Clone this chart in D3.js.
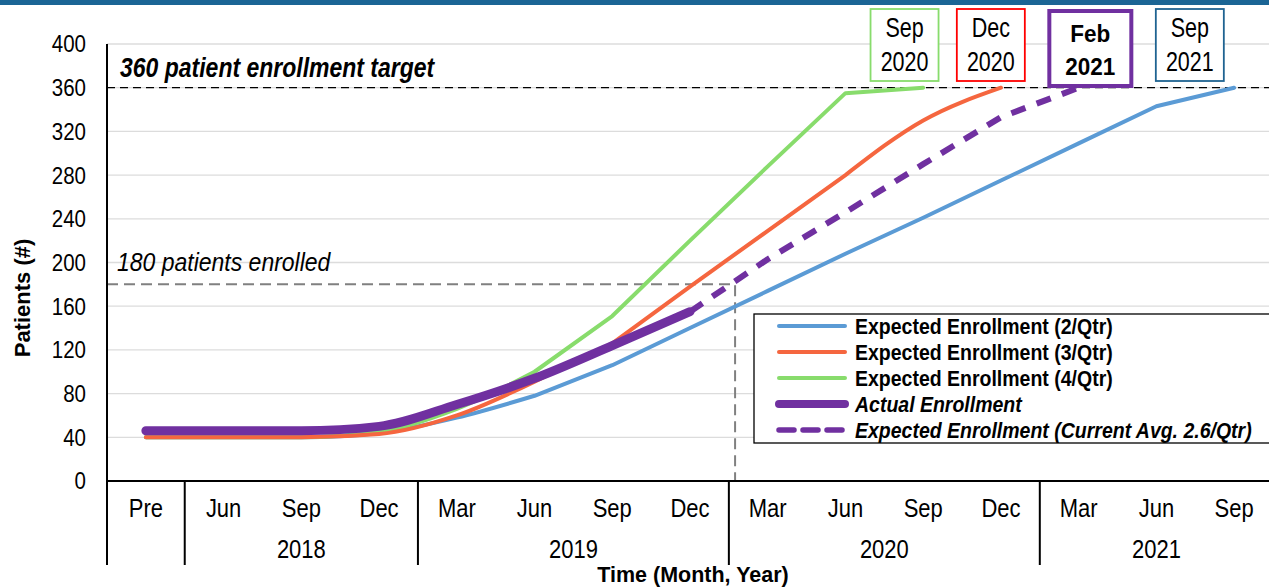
<!DOCTYPE html>
<html lang="en">
<head>
    <meta charset="UTF-8">
    <title>Enrollment</title>
    <script src="https://cdn.jsdelivr.net/npm/d3@7"></script>
    <style>
        body { margin: 0; background: #fff; }
        text { font-family: "Liberation Sans", Arial, sans-serif; fill: #000; }
    </style>
</head>
<body>
<svg width="1269" height="588"></svg>
<script>
    // categories along the x axis (quarters)
    const months = ["Pre", "Jun", "Sep", "Dec", "Mar", "Jun", "Sep", "Dec", "Mar", "Jun", "Sep", "Dec", "Mar", "Jun", "Sep"];
    const years = [
        {label: "", from: 0, to: 0},
        {label: "2018", from: 1, to: 3},
        {label: "2019", from: 4, to: 7},
        {label: "2020", from: 8, to: 11},
        {label: "2021", from: 12, to: 14}
    ];
    const yTicks = [0, 40, 80, 120, 160, 200, 240, 280, 320, 360, 400];

    // series values (patients), one per quarter
    const exp2 = [40, 40, 40, 44, 58, 78, 106, 140, 174, 208, 241, 275, 309, 343, 360];
    const exp3 = [40, 40, 40, 43, 60, 91, 126, 178, 229, 280, 330, 360];
    const exp4 = [40, 40, 40, 45, 66, 100, 151, 220, 288, 355, 360];
    const actual = [46, 46, 46, 50, 70, 94, 124, 155];
    // projected at current avg, starts at last actual quarter (index 7)
    const projected = [155, 203, 246, 290, 333, 360];
    const projStart = 7;

    const target = 360;
    const halfway = 180;
    const halfwayAt = 7.58; // quarter index where projection crosses 180

    const milestones = [
        {l1: "Sep", l2: "2020", at: 9.76, color: "#88dc6c", bold: false},
        {l1: "Dec", l2: "2020", at: 10.87, color: "#ff0000", bold: false},
        {l1: "Feb", l2: "2021", at: 12.15, color: "#7030a0", bold: true},
        {l1: "Sep", l2: "2021", at: 13.43, color: "#1f6391", bold: false}
    ];

    const legendItems = [
        {name: "Expected Enrollment (2/Qtr)", color: "#5b9bd5", w: 4, dash: null, italic: false},
        {name: "Expected Enrollment (3/Qtr)", color: "#f5663f", w: 4, dash: null, italic: false},
        {name: "Expected Enrollment (4/Qtr)", color: "#88dc6c", w: 4, dash: null, italic: false},
        {name: "Actual Enrollment", color: "#7030a0", w: 8, dash: null, italic: true},
        {name: "Expected Enrollment (Current Avg. 2.6/Qtr)", color: "#7030a0", w: 5.5, dash: "15,9", italic: true}
    ];

    var svg = d3.select("svg");

    var x = d3.scaleLinear().domain([-0.5, 14.5]).range([107, 1273]);
    var y = d3.scaleLinear().domain([0, 400]).range([481, 44]);

    // text in the picture is a bit taller than plain Arial
    function at(px, py, sy) {
        return "translate(" + px + "," + py + ") scale(1," + (sy || 1.15) + ")";
    }

    // top banner
    svg.append("rect").attr("x", 0).attr("y", 0).attr("width", 1269).attr("height", 5).attr("fill", "#1b6595");

    // gridlines
    svg.append("g").selectAll("line").data(yTicks.filter(d => d > 0)).enter().append("line")
        .attr("x1", x(-0.5)).attr("x2", 1269)
        .attr("y1", d => y(d)).attr("y2", d => y(d))
        .attr("stroke", "#dcdcdc").attr("stroke-width", 1.3);

    // y tick labels
    svg.append("g").selectAll("text").data(yTicks).enter().append("text")
        .attr("transform", d => at(86, y(d)))
        .attr("dy", "0.36em")
        .attr("text-anchor", "end")
        .style("font-size", "20.5px").text(d => d);

    svg.append("text")
        .attr("transform", "translate(30,298) rotate(-90)")
        .attr("text-anchor", "middle")
        .style("font-size", "22px").style("font-weight", "bold")
        .text("Patients (#)");

    // reference lines
    svg.append("line")
        .attr("x1", x(-0.5)).attr("x2", 1269).attr("y1", y(target)).attr("y2", y(target))
        .attr("stroke", "#000").attr("stroke-width", 1.3).attr("stroke-dasharray", "8,5");
    svg.append("text").attr("transform", at(120, 77, 1.2))
        .style("font-size", "23px").style("font-weight", "bold").style("font-style", "italic")
        .text("360 patient enrollment target");

    svg.append("path")
        .attr("d", "M" + x(-0.5) + "," + y(halfway) + "H" + x(halfwayAt) + "V" + y(0))
        .attr("fill", "none").attr("stroke", "#808080").attr("stroke-width", 2).attr("stroke-dasharray", "11,6");
    svg.append("text").attr("transform", at(117, 271))
        .style("font-size", "23px").style("font-style", "italic")
        .text("180 patients enrolled");

    // series: smooth through the early quarters, straight in the middle,
    // optionally smooth again for the last few quarters
    var smooth = d3.line().x(d => x(d.i)).y(d => y(d.v)).curve(d3.curveMonotoneX);
    var straight = d3.line().x(d => x(d.i)).y(d => y(d.v));

    function pts(arr, start) {
        return arr.map((v, i) => ({i: i + (start || 0), v: v}));
    }
    function seriesPath(arr, smoothTail) {
        var p = pts(arr), k = 5;
        var d = smooth(p.slice(0, k + 1));
        if (smoothTail) {
            var t = p.length - 3;
            d += straight(p.slice(k, t + 1)).replace(/^M/, "L");
            d += smooth(p.slice(t)).replace(/^M[^LC]*/, "");
        } else {
            d += straight(p.slice(k)).replace(/^M/, "L");
        }
        return d;
    }

    var g = svg.append("g").attr("fill", "none").attr("stroke-linecap", "round").attr("stroke-linejoin", "round");
    g.append("path").attr("d", seriesPath(exp2)).attr("stroke", "#5b9bd5").attr("stroke-width", 4);
    g.append("path").attr("d", seriesPath(exp4)).attr("stroke", "#88dc6c").attr("stroke-width", 4);
    g.append("path").attr("d", seriesPath(exp3, true)).attr("stroke", "#f5663f").attr("stroke-width", 4);
    g.append("path").attr("d", straight(pts(projected, projStart))).attr("stroke", "#7030a0")
        .attr("stroke-width", 6).attr("stroke-dasharray", "15,12").attr("stroke-linecap", "butt");
    g.append("path").attr("d", smooth(pts(actual))).attr("stroke", "#7030a0").attr("stroke-width", 9);

    // milestone boxes
    var mb = svg.append("g").selectAll("g").data(milestones).enter().append("g")
        .attr("transform", d => "translate(" + x(d.at) + ",0)");
    mb.append("rect")
        .attr("x", d => d.bold ? -41 : -34).attr("y", d => d.bold ? 11 : 9)
        .attr("width", d => d.bold ? 82 : 68).attr("height", d => d.bold ? 75 : 72)
        .attr("fill", "#fff").attr("stroke", d => d.color).attr("stroke-width", d => d.bold ? 4 : 1.8);
    mb.append("text").attr("transform", d => at(0, d.bold ? 42 : 37, d.bold ? 1.1 : 1.25))
        .attr("text-anchor", "middle")
        .style("font-size", d => d.bold ? "22.5px" : "21.5px")
        .style("font-weight", d => d.bold ? "bold" : "normal").text(d => d.l1);
    mb.append("text").attr("transform", d => at(0, d.bold ? 75 : 71, d.bold ? 1.1 : 1.25))
        .attr("text-anchor", "middle")
        .style("font-size", d => d.bold ? "22.5px" : "21.5px")
        .style("font-weight", d => d.bold ? "bold" : "normal").text(d => d.l2);

    // legend
    var lg = svg.append("g").attr("transform", "translate(754,314)");
    lg.append("rect").attr("width", 530).attr("height", 129)
        .attr("fill", "#fff").attr("stroke", "#000").attr("stroke-width", 1.3);
    var li = lg.selectAll("g").data(legendItems).enter().append("g")
        .attr("transform", (d, i) => "translate(0," + (12 + i * 26) + ")");
    li.append("line").attr("x1", 25).attr("x2", 91)
        .attr("stroke", d => d.color).attr("stroke-width", d => d.w)
        .attr("stroke-dasharray", d => d.dash).attr("stroke-linecap", "round");
    li.append("text").attr("transform", at(101, 0, 1.15)).attr("dy", "0.36em")
        .style("font-size", "19.5px").style("font-weight", "bold")
        .style("font-style", d => d.italic ? "italic" : "normal")
        .text(d => d.name);

    // x axis
    var ax = svg.append("g");
    ax.append("line").attr("x1", x(-0.5)).attr("x2", 1269).attr("y1", y(0)).attr("y2", y(0))
        .attr("stroke", "#000").attr("stroke-width", 2);
    ax.append("line").attr("x1", x(-0.5)).attr("x2", x(-0.5)).attr("y1", y(400)).attr("y2", 565)
        .attr("stroke", "#000").attr("stroke-width", 2);
    ax.selectAll(".sep").data(years.slice(1)).enter().append("line")
        .attr("x1", d => x(d.from - 0.5)).attr("x2", d => x(d.from - 0.5))
        .attr("y1", y(0)).attr("y2", 565)
        .attr("stroke", "#000").attr("stroke-width", 2);
    ax.selectAll(".m").data(months).enter().append("text")
        .attr("transform", (d, i) => at(x(i), 508)).attr("dy", "0.36em")
        .attr("text-anchor", "middle")
        .style("font-size", "22px").text(d => d);
    ax.selectAll(".yr").data(years).enter().append("text")
        .attr("transform", d => at(x((d.from + d.to) / 2), 549)).attr("dy", "0.36em")
        .attr("text-anchor", "middle")
        .style("font-size", "22px").text(d => d.label);
    svg.append("text").attr("transform", at(693, 582, 1.05)).attr("text-anchor", "middle")
        .style("font-size", "21.5px").style("font-weight", "bold")
        .text("Time (Month, Year)");
</script>
</body>
</html>
